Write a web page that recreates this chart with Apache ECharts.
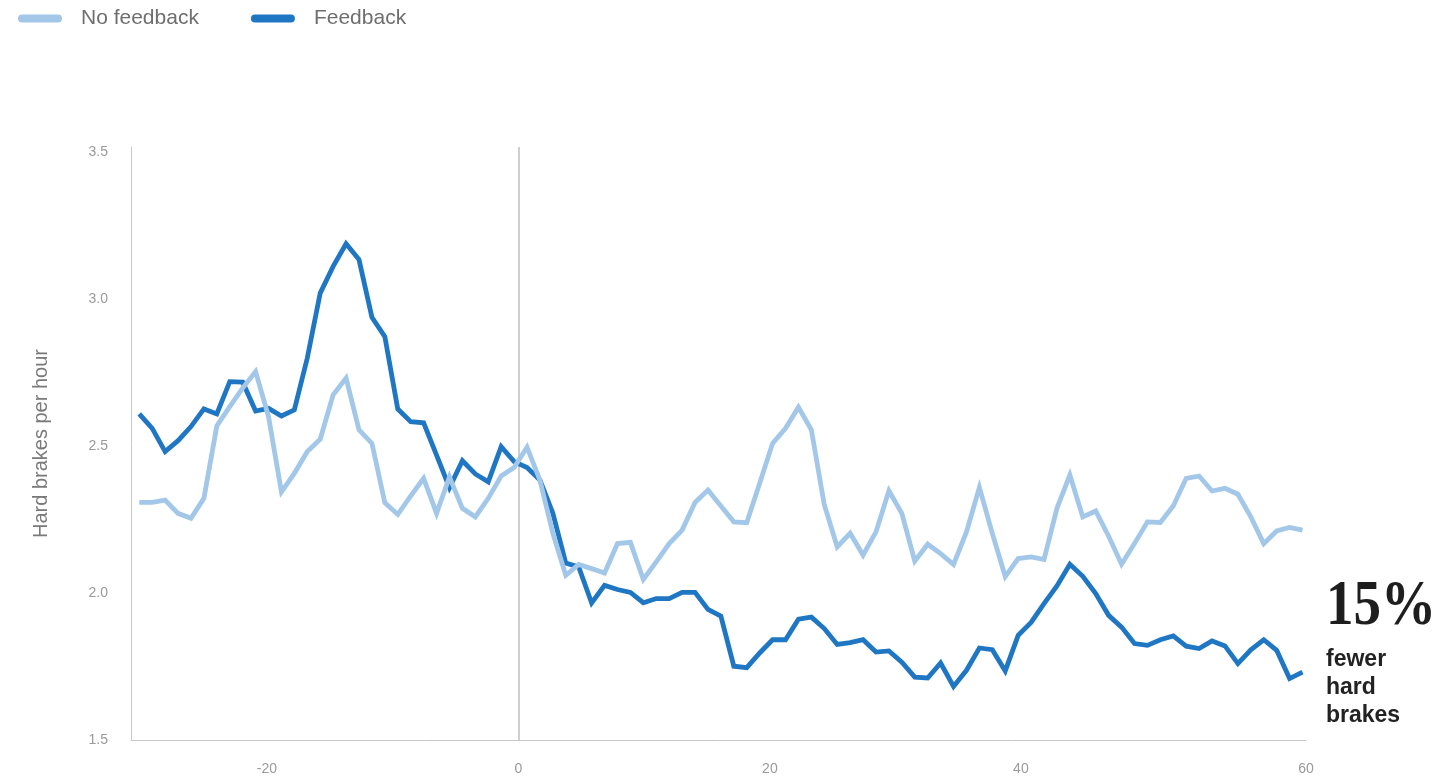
<!DOCTYPE html>
<html>
<head>
<meta charset="utf-8">
<title>Hard brakes per hour</title>
<script src="https://cdn.jsdelivr.net/npm/echarts@6/dist/echarts.min.js"></script>
<style>
  html, body { margin: 0; padding: 0; background: #ffffff; }
  #chart { width: 1436px; height: 777px; }
</style>
</head>
<body>
<div id="chart"></div>
<script>
// Hard brakes per hour, one value per reporting period (91 periods).
const noFeedback = [
  2.308, 2.308, 2.316, 2.271, 2.254, 2.322, 2.568, 2.634, 2.697, 2.753,
  2.600, 2.344, 2.407, 2.481, 2.523, 2.674, 2.731, 2.555, 2.509, 2.307,
  2.267, 2.330, 2.390, 2.271, 2.395, 2.288, 2.259, 2.322, 2.398, 2.427,
  2.496, 2.384, 2.203, 2.060, 2.097, 2.083, 2.068, 2.168, 2.172, 2.046,
  2.106, 2.168, 2.214, 2.308, 2.350, 2.296, 2.242, 2.239, 2.373, 2.509,
  2.560, 2.632, 2.555, 2.300, 2.157, 2.203, 2.129, 2.208, 2.348, 2.271,
  2.108, 2.166, 2.134, 2.097, 2.208, 2.359, 2.203, 2.056, 2.117, 2.123,
  2.114, 2.288, 2.401, 2.259, 2.279, 2.193, 2.098, 2.168, 2.242, 2.240,
  2.296, 2.390, 2.398, 2.347, 2.356, 2.336, 2.259, 2.168, 2.211, 2.223,
  2.214
];
const feedback = [
  2.609, 2.560, 2.481, 2.518, 2.566, 2.626, 2.609, 2.719, 2.717, 2.619,
  2.628, 2.602, 2.623, 2.799, 3.020, 3.111, 3.188, 3.134, 2.938, 2.872,
  2.626, 2.583, 2.579, 2.469, 2.358, 2.450, 2.405, 2.378, 2.498, 2.447,
  2.427, 2.384, 2.271, 2.102, 2.089, 1.966, 2.026, 2.012, 2.002, 1.967,
  1.981, 1.981, 2.002, 2.002, 1.944, 1.921, 1.751, 1.746, 1.796, 1.841,
  1.841, 1.911, 1.918, 1.879, 1.825, 1.831, 1.841, 1.799, 1.803, 1.765,
  1.714, 1.711, 1.762, 1.682, 1.737, 1.813, 1.807, 1.735, 1.856, 1.900,
  1.964, 2.024, 2.098, 2.057, 1.998, 1.924, 1.884, 1.828, 1.822, 1.841,
  1.854, 1.819, 1.811, 1.837, 1.820, 1.760, 1.807, 1.841, 1.805, 1.709,
  1.731
];
// Week labels on the time axis and the period each one is printed at.
const xTickLabels = ['-20', '0', '20', '40', '60'];
const xTickPeriods = [9.88, 29.33, 48.79, 68.21, 90.27];
const yTickLabels = ['1.5', '2.0', '2.5', '3.0', '3.5'];

const seriesNames = ['No feedback', 'Feedback'];
const LIGHT = '#a2c7e9';
const DARK = '#1f77c4';
const SANS = '"Liberation Sans", Arial, Helvetica, sans-serif';

const toPoints = arr => arr.map((v, i) => [i, v]);

const chart = echarts.init(document.getElementById('chart'), null, { renderer: 'canvas' });

chart.setOption({
  animation: false,
  backgroundColor: '#ffffff',
  grid: { left: 131, right: 130, top: 147, bottom: 37, containLabel: false },
  legend: {
    left: 18,
    top: 8,
    padding: 0,
    itemWidth: 44,
    itemHeight: 8,
    itemGap: 52,
    icon: 'path://M4,0 L40,0 A4,4 0 0 1 40,8 L4,8 A4,4 0 0 1 4,0 Z',
    data: seriesNames,
    textStyle: { fontFamily: SANS, fontSize: 21, color: '#6e6e6e', padding: [0, 0, 0, 14] }
  },
  xAxis: {
    type: 'value',
    min: -0.64,
    max: 90.27,
    axisLine: { show: true, onZero: false, lineStyle: { color: '#c8c8c8', width: 1 } },
    axisTick: { show: false },
    splitLine: { show: false },
    axisLabel: {
      customValues: xTickPeriods,
      showMinLabel: true,
      showMaxLabel: true,
      margin: 22,
      fontFamily: SANS,
      fontSize: 14,
      color: '#9a9a9a',
      formatter: v => {
        let best = 0;
        xTickPeriods.forEach((p, i) => { if (Math.abs(p - v) < Math.abs(xTickPeriods[best] - v)) best = i; });
        return xTickLabels[best];
      }
    }
  },
  yAxis: {
    type: 'value',
    min: 1.5,
    max: 3.517,
    interval: 0.5,
    name: 'Hard brakes per hour',
    nameLocation: 'middle',
    nameGap: 80,
    nameTextStyle: { fontFamily: SANS, fontSize: 20, color: '#7a7a7a' },
    axisLine: { show: true, onZero: false, lineStyle: { color: '#c8c8c8', width: 1 } },
    axisTick: { show: false },
    splitLine: { show: false },
    axisLabel: {
      showMaxLabel: false,
      margin: 23,
      fontFamily: SANS,
      fontSize: 14,
      color: '#9a9a9a',
      formatter: v => yTickLabels[Math.round((v - 1.5) / 0.5)] || ''
    }
  },
  series: [
    {
      name: seriesNames[1],
      type: 'line',
      data: toPoints(feedback),
      showSymbol: false,
      symbol: 'none',
      color: DARK,
      itemStyle: { color: DARK },
      lineStyle: { color: DARK, width: 4.8, join: 'miter', cap: 'butt' },
      z: 3,
      markLine: {
        silent: true,
        symbol: 'none',
        z: 1,
        label: { show: false },
        lineStyle: { color: '#cfcfcf', width: 2, type: 'solid' },
        data: [{ xAxis: xTickPeriods[1] }]
      }
    },
    {
      name: seriesNames[0],
      type: 'line',
      data: toPoints(noFeedback),
      showSymbol: false,
      symbol: 'none',
      color: LIGHT,
      itemStyle: { color: LIGHT },
      lineStyle: { color: LIGHT, width: 4.8, join: 'miter', cap: 'butt' },
      z: 4
    }
  ],
  graphic: [
    {
      type: 'text',
      left: 1326,
      top: 575,
      style: {
        text: '15%',
        font: 'bold 64px "Liberation Serif", "Times New Roman", serif',
        fill: '#1e1e1e'
      },
      scaleX: 0.86,
      originX: 0
    },
    {
      type: 'text',
      left: 1326,
      top: 646,
      style: {
        text: 'fewer\nhard\nbrakes',
        font: 'bold 23px "Liberation Sans", Arial, sans-serif',
        lineHeight: 28,
        fill: '#222222'
      }
    }
  ]
});
</script>
</body>
</html>
